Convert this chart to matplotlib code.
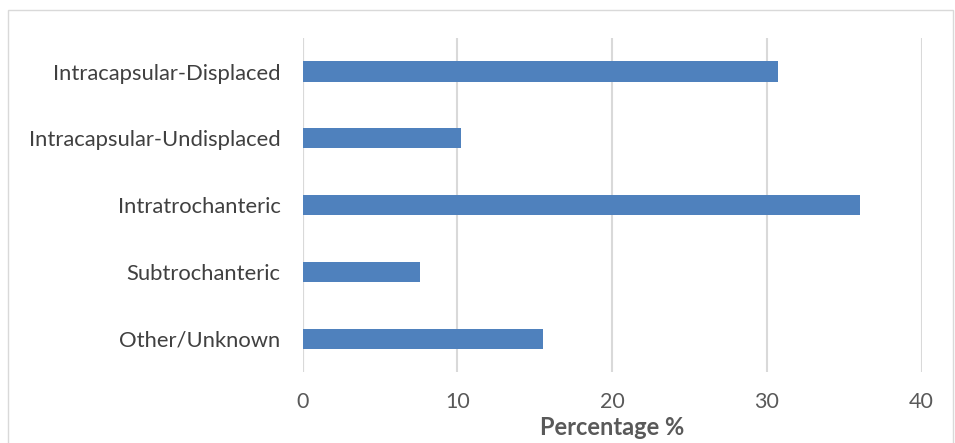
import numpy as np
import matplotlib
matplotlib.use('Agg')
import matplotlib.pyplot as plt
from matplotlib.patches import Rectangle

# Fracture types and their share (%)
categories = ['Intracapsular-Displaced', 'Intracapsular-Undisplaced',
              'Intratrochanteric', 'Subtrochanteric', 'Other/Unknown']
percent = [30.7, 10.2, 36.0, 7.6, 15.5]
xticks = [0, 10, 20, 30, 40]

plt.rcParams['font.family'] = ['Lato', 'DejaVu Sans']

fig = plt.figure(figsize=(9.55, 4.43), dpi=100)
ax = fig.add_axes([0.317, 0.160, 0.648, 0.754])

# outer chart border
fig.patches.append(Rectangle((0.008, -0.01), 0.99, 0.987, transform=fig.transFigure,
                             fill=False, edgecolor='#D9D9D9', linewidth=1))

y = np.arange(len(categories))[::-1]
ax.barh(y, percent, height=0.3, color='#4F81BD', zorder=3)

ax.set_xlim(0, 40)
ax.set_ylim(-0.5, len(categories) - 0.5)
ax.set_xticks(xticks)
ax.set_xticklabels([str(t) for t in xticks], fontsize=15.5, color='#595959')
ax.set_yticks(y)
ax.set_yticklabels(categories, fontsize=15.8, color='#404040')
ax.tick_params(length=0)
ax.tick_params(axis='x', pad=14)
ax.tick_params(axis='y', pad=16)

ax.grid(axis='x', color='#D9D9D9', linewidth=1.5, zorder=0)
for s in ax.spines.values():
    s.set_visible(False)
ax.axvline(0, color='#D9D9D9', linewidth=1.5, zorder=1)

ax.set_xlabel('Percentage %', fontsize=17, fontweight='bold', color='#595959', labelpad=3)

fig.savefig('out.png', dpi=100)
